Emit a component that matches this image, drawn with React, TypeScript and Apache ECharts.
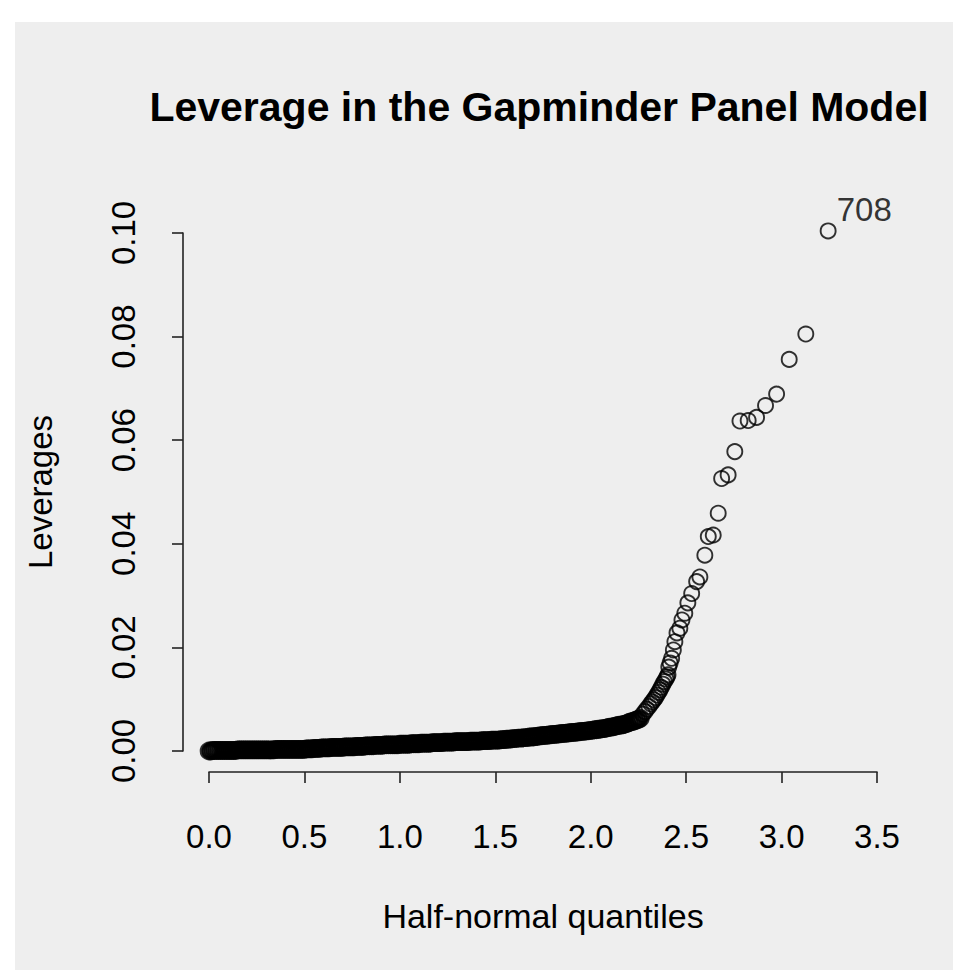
import React, { useEffect, useRef } from "react";
import * as echarts from "echarts";

const chartTitle = "Leverage in the Gapminder Panel Model";
const xAxisName = "Half-normal quantiles";
const yAxisName = "Leverages";
const xTicks = [0, 0.5, 1, 1.5, 2, 2.5, 3, 3.5];
const yTicks = [0, 0.02, 0.04, 0.06, 0.08, 0.1];

// dense band of points (half-normal quantile, leverage)
const bandQuantiles = [
  0.00, 0.01, 0.02, 0.03, 0.04, 0.05, 0.06, 0.07, 0.08, 0.09,
  0.10, 0.11, 0.12, 0.13, 0.14, 0.15, 0.16, 0.17, 0.18, 0.19,
  0.20, 0.21, 0.22, 0.23, 0.24, 0.25, 0.26, 0.27, 0.28, 0.29,
  0.30, 0.31, 0.32, 0.33, 0.34, 0.35, 0.36, 0.37, 0.38, 0.39,
  0.40, 0.41, 0.42, 0.43, 0.44, 0.45, 0.46, 0.47, 0.48, 0.49,
  0.50, 0.51, 0.52, 0.53, 0.54, 0.55, 0.56, 0.57, 0.58, 0.59,
  0.60, 0.61, 0.62, 0.63, 0.64, 0.65, 0.66, 0.67, 0.68, 0.69,
  0.70, 0.71, 0.72, 0.73, 0.74, 0.75, 0.76, 0.77, 0.78, 0.79,
  0.80, 0.81, 0.82, 0.83, 0.84, 0.85, 0.86, 0.87, 0.88, 0.89,
  0.90, 0.91, 0.92, 0.93, 0.94, 0.95, 0.96, 0.97, 0.98, 0.99,
  1.00, 1.01, 1.02, 1.03, 1.04, 1.05, 1.06, 1.07, 1.08, 1.09,
  1.10, 1.11, 1.12, 1.13, 1.14, 1.15, 1.16, 1.17, 1.18, 1.19,
  1.20, 1.21, 1.22, 1.23, 1.24, 1.25, 1.26, 1.27, 1.28, 1.29,
  1.30, 1.31, 1.32, 1.33, 1.34, 1.35, 1.36, 1.37, 1.38, 1.39,
  1.40, 1.41, 1.42, 1.43, 1.44, 1.45, 1.46, 1.47, 1.48, 1.49,
  1.50, 1.51, 1.52, 1.53, 1.54, 1.55, 1.56, 1.57, 1.58, 1.59,
  1.60, 1.61, 1.62, 1.63, 1.64, 1.65, 1.66, 1.67, 1.68, 1.69,
  1.70, 1.71, 1.72, 1.73, 1.74, 1.75, 1.76, 1.77, 1.78, 1.79,
  1.80, 1.81, 1.82, 1.83, 1.84, 1.85, 1.86, 1.87, 1.88, 1.89,
  1.90, 1.91, 1.92, 1.93, 1.94, 1.95, 1.96, 1.97, 1.98, 1.99,
  2.00, 2.01, 2.02, 2.03, 2.04, 2.05, 2.06, 2.07, 2.08, 2.09,
  2.10, 2.11, 2.12, 2.13, 2.14, 2.15, 2.16, 2.17, 2.18, 2.19,
  2.20, 2.21, 2.22, 2.23, 2.24, 2.25, 2.26,
];
const bandLeverages = [
  0.0000, 0.0000, 0.0001, 0.0001, 0.0001, 0.0001, 0.0001, 0.0001, 0.0001, 0.0001,
  0.0001, 0.0001, 0.0001, 0.0001, 0.0001, 0.0002, 0.0002, 0.0002, 0.0002, 0.0002,
  0.0002, 0.0002, 0.0002, 0.0002, 0.0002, 0.0002, 0.0002, 0.0002, 0.0002, 0.0002,
  0.0002, 0.0002, 0.0002, 0.0002, 0.0002, 0.0003, 0.0003, 0.0003, 0.0003, 0.0003,
  0.0003, 0.0003, 0.0003, 0.0003, 0.0003, 0.0003, 0.0003, 0.0003, 0.0003, 0.0003,
  0.0003, 0.0004, 0.0004, 0.0004, 0.0004, 0.0005, 0.0005, 0.0005, 0.0005, 0.0006,
  0.0006, 0.0006, 0.0006, 0.0006, 0.0007, 0.0007, 0.0007, 0.0007, 0.0007, 0.0007,
  0.0007, 0.0008, 0.0008, 0.0008, 0.0008, 0.0008, 0.0008, 0.0009, 0.0009, 0.0009,
  0.0009, 0.0009, 0.0010, 0.0010, 0.0010, 0.0010, 0.0010, 0.0011, 0.0011, 0.0011,
  0.0011, 0.0011, 0.0012, 0.0012, 0.0012, 0.0012, 0.0012, 0.0012, 0.0012, 0.0012,
  0.0013, 0.0013, 0.0013, 0.0013, 0.0013, 0.0013, 0.0014, 0.0014, 0.0014, 0.0014,
  0.0014, 0.0015, 0.0015, 0.0015, 0.0015, 0.0015, 0.0015, 0.0016, 0.0016, 0.0016,
  0.0016, 0.0016, 0.0016, 0.0017, 0.0017, 0.0017, 0.0017, 0.0017, 0.0017, 0.0018,
  0.0018, 0.0018, 0.0018, 0.0018, 0.0018, 0.0018, 0.0018, 0.0019, 0.0019, 0.0019,
  0.0019, 0.0019, 0.0019, 0.0020, 0.0020, 0.0020, 0.0020, 0.0020, 0.0021, 0.0021,
  0.0021, 0.0021, 0.0021, 0.0022, 0.0022, 0.0022, 0.0023, 0.0023, 0.0023, 0.0024,
  0.0024, 0.0024, 0.0025, 0.0025, 0.0025, 0.0026, 0.0026, 0.0026, 0.0027, 0.0027,
  0.0027, 0.0028, 0.0028, 0.0029, 0.0029, 0.0030, 0.0030, 0.0030, 0.0031, 0.0031,
  0.0032, 0.0032, 0.0032, 0.0033, 0.0033, 0.0034, 0.0034, 0.0034, 0.0035, 0.0035,
  0.0036, 0.0036, 0.0036, 0.0037, 0.0037, 0.0038, 0.0038, 0.0038, 0.0039, 0.0039,
  0.0040, 0.0040, 0.0041, 0.0041, 0.0042, 0.0042, 0.0043, 0.0043, 0.0044, 0.0045,
  0.0046, 0.0046, 0.0047, 0.0048, 0.0049, 0.0050, 0.0050, 0.0051, 0.0052, 0.0053,
  0.0055, 0.0056, 0.0057, 0.0058, 0.0060, 0.0061, 0.0063,
];

// upper tail points
const tailQuantiles = [
  2.273, 2.284, 2.294, 2.305, 2.315, 2.323, 2.331, 2.339, 2.347, 2.355,
  2.363, 2.370, 2.378, 2.386, 2.394, 2.400, 2.405, 2.409, 2.416, 2.424,
  2.433, 2.441, 2.452, 2.467, 2.478, 2.493, 2.509, 2.529, 2.555, 2.572,
  2.598, 2.616, 2.642, 2.668, 2.686, 2.720, 2.755, 2.782, 2.825, 2.869,
  2.916, 2.974, 3.040, 3.127,
];
const tailLeverages = [
  0.0071, 0.0076, 0.0081, 0.0086, 0.0091, 0.0095, 0.0099, 0.0103, 0.0108, 0.0113,
  0.0118, 0.0123, 0.0129, 0.0134, 0.0139, 0.0143, 0.0147, 0.0162, 0.0170, 0.0179,
  0.0195, 0.0211, 0.0228, 0.0237, 0.0253, 0.0266, 0.0286, 0.0304, 0.0327, 0.0336,
  0.0378, 0.0414, 0.0417, 0.0459, 0.0526, 0.0533, 0.0578, 0.0637, 0.0638, 0.0644,
  0.0667, 0.0689, 0.0756, 0.0805,
];

// labelled observation
const labelledQuantiles = [3.244];
const labelledLeverages = [0.1004];
const labelledIds = ["708"];

const FONT = "'Liberation Sans', Arial, Helvetica, sans-serif";

export default function App() {
  const ref = useRef<HTMLDivElement>(null);

  useEffect(() => {
    if (!ref.current) return;
    const chart = echarts.init(ref.current, undefined, { renderer: "svg" });

    const ringStyle = {
      color: "rgba(0,0,0,0)",
      borderColor: "#000",
      borderWidth: 1.9,
    };
    const bandStyle = {
      color: "rgba(0,0,0,0)",
      borderColor: "#000",
      borderWidth: 3.6,
    };

    const bandData = bandQuantiles.map((q, i) => [q, bandLeverages[i]]);
    const tailData = tailQuantiles.map((q, i) => [q, tailLeverages[i]]);
    const labelledData = labelledQuantiles.map((q, i) => ({
      value: [q, labelledLeverages[i]],
      name: labelledIds[i],
    }));

    const axisLineStyle = { color: "#222", width: 1.6 };

    chart.setOption({
      animation: false,
      backgroundColor: "#eeeeee",
      textStyle: { fontFamily: FONT },
      title: {
        text: chartTitle,
        left: 524,
        top: 64,
        padding: 0,
        textAlign: "center",
        textStyle: {
          fontFamily: FONT,
          fontSize: 41,
          fontWeight: "bold",
          color: "#000",
        },
      },
      grid: { left: 194, right: 76, top: 211, bottom: 219, containLabel: false },
      xAxis: {
        type: "value",
        min: xTicks[0],
        max: xTicks[xTicks.length - 1],
        interval: 0.5,
        offset: 21,
        name: xAxisName,
        nameLocation: "middle",
        nameGap: 127,
        nameTextStyle: { fontFamily: FONT, fontSize: 34, color: "#000" },
        axisLine: { show: true, onZero: false, lineStyle: axisLineStyle },
        axisTick: { show: true, length: 11, lineStyle: axisLineStyle },
        axisLabel: {
          margin: 48,
          fontFamily: FONT,
          fontSize: 33,
          color: "#000",
          showMinLabel: true,
          showMaxLabel: true,
          formatter: (v: number) => v.toFixed(1),
        },
        splitLine: { show: false },
      },
      yAxis: {
        type: "value",
        min: yTicks[0],
        max: yTicks[yTicks.length - 1],
        interval: 0.02,
        offset: 26,
        name: yAxisName,
        nameLocation: "middle",
        nameRotate: 90,
        nameGap: 126,
        nameTextStyle: { fontFamily: FONT, fontSize: 33, color: "#000" },
        axisLine: { show: true, onZero: false, lineStyle: axisLineStyle },
        axisTick: { show: true, length: 11, lineStyle: axisLineStyle },
        axisLabel: {
          margin: 43,
          rotate: 90,
          fontFamily: FONT,
          fontSize: 33,
          color: "#000",
          showMinLabel: true,
          showMaxLabel: true,
          formatter: (v: number) => v.toFixed(2),
        },
        splitLine: { show: false },
      },
      series: [
        {
          type: "scatter",
          data: bandData,
          symbol: "circle",
          symbolSize: 15,
          clip: false,
          silent: true,
          itemStyle: bandStyle,
        },
        {
          type: "scatter",
          data: tailData,
          symbol: "circle",
          symbolSize: 15,
          clip: false,
          silent: true,
          itemStyle: ringStyle,
        },
        {
          type: "scatter",
          data: labelledData,
          symbol: "circle",
          symbolSize: 15,
          clip: false,
          silent: true,
          itemStyle: ringStyle,
          label: {
            show: true,
            formatter: (p: any) => p.name,
            position: [17, -29],
            align: "left",
            verticalAlign: "top",
            fontFamily: FONT,
            fontSize: 33,
            color: "#000",
          },
        },
      ],
    });

    return () => chart.dispose();
  }, []);

  return (
    <div
      ref={ref}
      style={{ position: "fixed", left: 15, top: 22, width: 938, height: 948 }}
    />
  );
}
